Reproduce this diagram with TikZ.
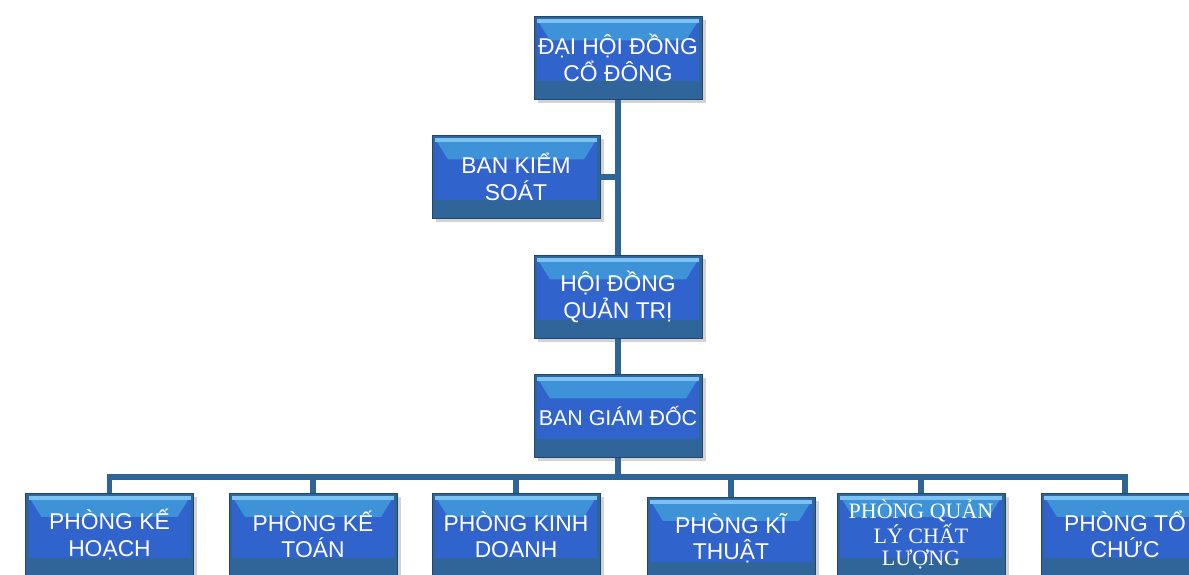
\documentclass[tikz,border=0pt]{standalone}
\usepackage{fontspec}
\setmainfont{Liberation Sans}
\newfontfamily\serifbox{Liberation Serif}
\usetikzlibrary{calc}
\usetikzlibrary{shadows}

\definecolor{frameblue}{HTML}{30659A}
\definecolor{midblue}{HTML}{3163CD}
\definecolor{bandblue}{HTML}{3D92D8}
\definecolor{lightblue}{HTML}{7CC2F2}
\definecolor{linkblue}{HTML}{2F6496}

\tikzset{
    unitbox/.style={minimum width=3.36cm, minimum height=1.66cm, inner sep=1pt,
        align=center, text=white, font=\fontsize{13}{15}\selectfont,
        fill=frameblue, draw=frameblue!70!black, line width=0.4pt,
        drop shadow={opacity=0.35, shadow xshift=2pt, shadow yshift=-2pt},
        path picture={
            \fill[midblue] ($(path picture bounding box.north west)+(0.06,-0.06)$)
                rectangle ($(path picture bounding box.south east)+(-0.06,0.36)$);
            \fill[bandblue] ($(path picture bounding box.north west)+(0.06,-0.06)$)
                -- ($(path picture bounding box.north east)+(-0.06,-0.06)$)
                -- ($(path picture bounding box.north east)+(-0.32,-0.48)$)
                -- ($(path picture bounding box.north west)+(0.32,-0.48)$) -- cycle;
            \fill[lightblue] ($(path picture bounding box.north west)+(0.06,-0.06)$)
                rectangle ($(path picture bounding box.north east)+(-0.06,-0.14)$);
        }},
    link/.style={linkblue, line width=3.2pt}
}

\begin{document}
\begin{tikzpicture}
    \clip (0,0) rectangle (23.78,11.5);

    % draws boxes
    \node[unitbox] (dhcd) at (12.36,10.34) {ĐẠI HỘI ĐỒNG\\CỔ ĐÔNG};
    \node[unitbox] (bks) at (10.32,7.96) {BAN KIỂM\\SOÁT};
    \node[unitbox] (hdqt) at (12.36,5.56) {HỘI ĐỒNG\\QUẢN TRỊ};
    \node[unitbox, font=\fontsize{12.2}{15}\selectfont] (bgd) at (12.36,3.18) {BAN GIÁM ĐỐC};

    \node[unitbox] (pkh) at (2.19,0.81) {PHÒNG KẾ\\HOẠCH};
    \node[unitbox] (pkt) at (6.26,0.81) {PHÒNG KẾ\\TOÁN};
    \node[unitbox] (pkd) at (10.32,0.81) {PHÒNG KINH\\DOANH};
    \node[unitbox] (pkth) at (14.62,0.73) {PHÒNG KĨ\\THUẬT};
    \node[unitbox, font=\serifbox\fontsize{12.5}{12.5}\selectfont] (pql) at (18.42,0.81) {PHÒNG QUẢN\\LÝ CHẤT\\LƯỢNG};
    \node[unitbox] (ptc) at (22.5,0.81) {PHÒNG TỔ\\CHỨC};

    % draws links
    \coordinate (bus) at (12.36,1.96);
    \draw[link] (dhcd.south) -- (hdqt.north);
    \draw[link] (bks.east) -- (bks.east -| dhcd.south);
    \draw[link] (hdqt.south) -- (bgd.north);
    \draw[link] (bgd.south) -- (bus);
    \foreach \p in {pkh,pkt,pkd,pkth,pql,ptc}
        \draw[link] (bus) -| (\p.north);
\end{tikzpicture}
\end{document}
